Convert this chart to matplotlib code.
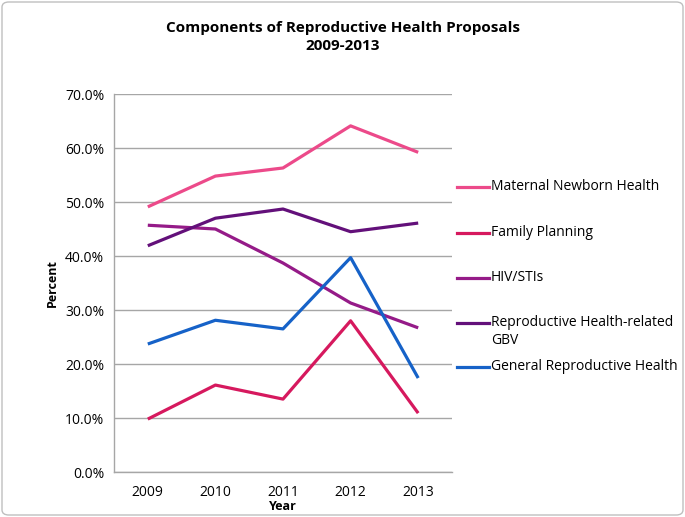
import matplotlib
matplotlib.use("Agg")
import matplotlib.pyplot as plt
from matplotlib.lines import Line2D
from matplotlib.patches import FancyBboxPatch
from matplotlib.ticker import FuncFormatter

plt.rcParams['font.family'] = ['Open Sans', 'DejaVu Sans']

years = ["2009", "2010", "2011", "2012", "2013"]
maternal = [49.1, 54.8, 56.3, 64.1, 59.2]
family_planning = [9.8, 16.1, 13.5, 28.0, 10.9]
hiv = [45.7, 45.0, 38.7, 31.3, 26.7]
gbv = [41.9, 47.0, 48.7, 44.5, 46.1]
general = [23.7, 28.1, 26.5, 39.7, 17.4]

series_names = ["Maternal Newborn Health", "Family Planning", "HIV/STIs",
                "Reproductive Health-related\nGBV", "General Reproductive Health"]
series_vals = [maternal, family_planning, hiv, gbv, general]
colors = ["#EC4A8A", "#D6195E", "#951B88", "#63107A", "#1662C8"]

fig = plt.figure(figsize=(6.85, 5.17), dpi=100)
ax = fig.add_axes([114/685, 45/517, (452-114)/685, (472-94)/517])

x = list(range(len(years)))
for vals, c in zip(series_vals, colors):
    ax.plot(x, vals, color=c, linewidth=2.3, solid_capstyle='butt', zorder=3)

ax.set_xlim(-0.5, 4.5)
ax.set_ylim(0, 70)
ax.set_yticks(range(0, 71, 10))
ax.yaxis.set_major_formatter(FuncFormatter(lambda v, p: f"{v:.1f}%"))
ax.set_xticks(x)
ax.set_xticklabels(years)
ax.tick_params(axis='both', length=0, labelsize=10, colors='black')
ax.tick_params(axis='x', pad=9)
ax.tick_params(axis='y', pad=7)
ax.grid(axis='y', color='#A6A6A6', linewidth=1)
ax.set_axisbelow(True)
for s in ['top', 'right']:
    ax.spines[s].set_visible(False)
for s in ['left', 'bottom']:
    ax.spines[s].set_color('#A6A6A6')
    ax.spines[s].set_linewidth(1)

fig.text(52/685, 1 - 283/517, "Percent", rotation=90, fontsize=9, fontweight='bold',
         ha='center', va='center')
fig.text(283/685, 1 - 507/517, "Year", fontsize=9, fontweight='bold', ha='center', va='center')
fig.text(343/685, 1 - 37/517, "Components of Reproductive Health Proposals\n2009-2013",
         fontsize=11, fontweight='bold', ha='center', va='center', linespacing=1.3)

# legend
leg_y = [187, 233, 278, 323, 367]
for name, c, yy in zip(series_names, colors, leg_y):
    fig.add_artist(Line2D([457/685, 489/685], [1 - yy/517, 1 - yy/517], color=c,
                          linewidth=2.3, transform=fig.transFigure))
    fig.text(491/685, 1 - (yy - 8)/517, name, fontsize=10, ha='left', va='top',
             linespacing=1.25)

fig.add_artist(FancyBboxPatch((2/685, 2/517), 681/685, 513/517,
                              boxstyle="round,pad=0,rounding_size=0.01",
                              transform=fig.transFigure, fill=False,
                              edgecolor='#BFBFBF', linewidth=1))

fig.savefig("out.png", dpi=100)
